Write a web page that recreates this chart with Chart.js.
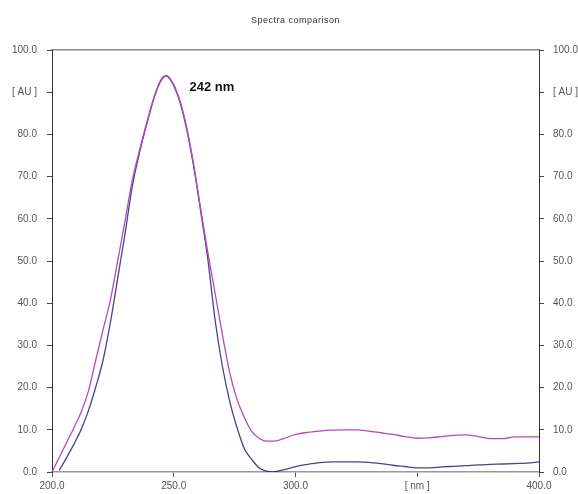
<!DOCTYPE html>
<html>
<head>
<meta charset="utf-8">
<script src="https://cdn.jsdelivr.net/npm/chart.js@4.4.1/dist/chart.umd.min.js"></script>
<style>
    body { margin: 0; background: #fff; }
    canvas { display: block; }
</style>
</head>
<body>
<canvas id="spectraChart" width="578" height="494"></canvas>
<script>
// wavelength grid [nm] and the two absorbance traces [AU]
const wavelengths = [200, 203, 206, 209, 212, 215, 218, 221, 224, 227, 230, 233, 236, 239, 242, 245, 247, 249, 252, 255, 258, 261, 264, 267, 270, 273, 276, 279, 282, 285, 288, 291, 295, 300, 305, 310, 315, 320, 325, 330, 335, 340, 345, 350, 355, 360, 365, 370, 375, 380, 385, 390, 395, 400];
const sampleA = [0, 3.5, 7.0, 10.5, 14.2, 19.3, 26.6, 33.8, 40.8, 50.1, 59.5, 69.2, 76.4, 83.0, 89.0, 93.2, 93.9, 92.8, 89.0, 82.5, 73.5, 62.6, 52.0, 42.3, 32.5, 23.5, 17.2, 12.9, 9.6, 8.0, 7.3, 7.3, 7.9, 8.9, 9.4, 9.7, 9.9, 10.0, 10.0, 9.7, 9.3, 8.9, 8.4, 8.0, 8.1, 8.4, 8.7, 8.8, 8.4, 7.9, 7.9, 8.3, 8.3, 8.3];
const sampleB = [null, 0.4, 3.4, 6.6, 10.1, 14.6, 20.2, 26.6, 35.5, 46.0, 56.5, 67.8, 75.8, 82.6, 88.8, 93.0, 93.8, 92.6, 88.6, 82.0, 73.0, 62.0, 50.4, 35.9, 25.0, 16.7, 10.5, 5.5, 3.0, 1.0, 0.2, 0.05, 0.5, 1.3, 1.8, 2.2, 2.4, 2.4, 2.4, 2.3, 2.0, 1.6, 1.3, 1.0, 1.0, 1.2, 1.35, 1.5, 1.7, 1.8, 1.9, 2.0, 2.1, 2.4];
const xTicks = [200, 250, 300, 350, 400];
const peakLabel = '242 nm';
const chartTitle = 'Spectra comparison';

const FONT = "'Liberation Sans', Arial, sans-serif";

function toPoints(values) {
    return wavelengths.map((w, i) => ({ x: w, y: values[i] }));
}

function yLabel(v) {
    return v === 90 ? '[ AU ]' : v.toFixed(1);
}

// title and peak annotation
const extras = {
    id: 'extras',
    afterDraw(chart) {
        const ctx = chart.ctx;
        const area = chart.chartArea;
        ctx.save();
        ctx.fillStyle = '#333';
        ctx.font = '9px ' + FONT;
        ctx.letterSpacing = '0.5px';
        ctx.textAlign = 'center';
        ctx.textBaseline = 'middle';
        ctx.fillText(chartTitle, (area.left + area.right) / 2, 21);
        ctx.letterSpacing = '0px';

        const top = Math.max(...sampleA);
        const i = sampleA.indexOf(top);
        const px = chart.scales.x.getPixelForValue(wavelengths[i]);
        const py = chart.scales.y.getPixelForValue(top);
        ctx.fillStyle = '#111';
        ctx.font = 'bold 13px ' + FONT;
        ctx.textAlign = 'left';
        ctx.fillText(peakLabel, px + 23, py + 12);
        ctx.restore();
    }
};

const yCommon = {
    type: 'linear',
    min: 0,
    max: 100,
    grid: { display: true, drawOnChartArea: false, drawTicks: true, tickLength: 5, color: '#444' },
    border: { display: true, color: '#333', width: 1 },
    ticks: { stepSize: 10, callback: yLabel, color: '#555', font: { size: 10, family: FONT } }
};

new Chart(document.getElementById('spectraChart'), {
    type: 'line',
    data: {
        datasets: [
            {
                label: 'A',
                data: toPoints(sampleA),
                borderColor: '#b848c0',
                borderWidth: 1.3,
                pointRadius: 0,
                cubicInterpolationMode: 'monotone'
            },
            {
                label: 'B',
                data: toPoints(sampleB),
                borderColor: 'rgba(30, 20, 100, 0.8)',
                borderWidth: 1.3,
                pointRadius: 0,
                cubicInterpolationMode: 'monotone'
            }
        ]
    },
    options: {
        responsive: false,
        animation: false,
        devicePixelRatio: 1,
        layout: { padding: 0 },
        plugins: {
            legend: { display: false },
            title: { display: false },
            tooltip: { enabled: false }
        },
        scales: {
            x: {
                type: 'linear',
                position: 'bottom',
                min: 200,
                max: 400,
                afterBuildTicks: (scale) => { scale.ticks = xTicks.map(v => ({ value: v })); },
                afterFit: (scale) => { scale.height = 22; },
                grid: { display: true, drawOnChartArea: false, drawTicks: true, tickLength: 5, color: '#555' },
                border: { display: true, color: '#999', width: 1.5 },
                ticks: {
                    maxRotation: 0,
                    padding: 3,
                    color: '#555',
                    font: { size: 10, family: FONT },
                    callback: (v) => v === 350 ? '[ nm ]' : v.toFixed(1)
                }
            },
            xTop: {
                type: 'linear',
                position: 'top',
                min: 200,
                max: 400,
                afterFit: (scale) => { scale.height = 50; },
                grid: { display: false },
                border: { display: true, color: '#888', width: 1.5 },
                ticks: { display: false }
            },
            y: Object.assign({}, yCommon, {
                position: 'left',
                afterFit: (scale) => { scale.width = 52; },
                ticks: Object.assign({}, yCommon.ticks, { padding: 10 })
            }),
            yRight: Object.assign({}, yCommon, {
                position: 'right',
                afterFit: (scale) => { scale.width = 39; },
                ticks: Object.assign({}, yCommon.ticks, { padding: 9 })
            })
        }
    },
    plugins: [extras]
});
</script>
</body>
</html>
